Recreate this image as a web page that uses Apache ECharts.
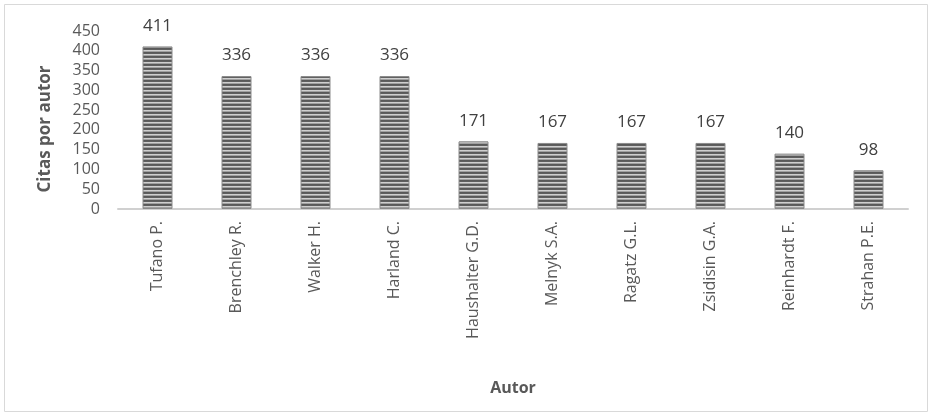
<!DOCTYPE html>
<html>
<head>
<meta charset="utf-8">
<title>Citas por autor</title>
<script src="https://cdn.jsdelivr.net/npm/echarts@6/dist/echarts.min.js"></script>
<style>
  html, body { margin: 0; padding: 0; background: #fff; }
  #chart { width: 932px; height: 417px; }
</style>
</head>
<body>
<div id="chart"></div>
<script>
var autores = ['Tufano P.', 'Brenchley R.', 'Walker H.', 'Harland C.', 'Haushalter G.D.',
               'Melnyk S.A.', 'Ragatz G.L.', 'Zsidisin G.A.', 'Reinhardt F.', 'Strahan P.E.'];
var citas = [411, 336, 336, 336, 171, 167, 167, 167, 140, 98];
var yTicks = [0, 50, 100, 150, 200, 250, 300, 350, 400, 450];

// horizontal stripes for the bars
var cv = document.createElement('canvas');
cv.width = 4; cv.height = 4;
var cx = cv.getContext('2d');
var rows = ['#595959', '#5f5f5f', '#cfcfcf', '#a0a0a0'];
for (var i = 0; i < rows.length; i++) {
  cx.fillStyle = rows[i];
  cx.fillRect(0, i, 4, 1);
}

var font = '"Open Sans", sans-serif';
var chart = echarts.init(document.getElementById('chart'));
chart.setOption({
  animation: false,
  textStyle: { fontFamily: font },
  graphic: [{
    type: 'rect',
    shape: { x: 4.5, y: 4.5, width: 923, height: 407 },
    style: { fill: 'none', stroke: '#d9d9d9', lineWidth: 1 },
    silent: true
  }],
  grid: { left: 118, right: 24, top: 31, bottom: 208 },
  xAxis: {
    type: 'category',
    data: autores,
    name: 'Autor',
    nameLocation: 'middle',
    nameGap: 171,
    nameTextStyle: { fontWeight: 'bold', fontSize: 16, color: '#595959', fontFamily: font },
    axisLine: { lineStyle: { color: '#d0d0d0', width: 2 } },
    axisTick: { show: false },
    axisLabel: { rotate: 90, interval: 0, fontSize: 16, color: '#595959', margin: 12, fontFamily: font }
  },
  yAxis: {
    type: 'value',
    min: 0,
    max: 450,
    interval: 50,
    name: 'Citas por autor',
    nameLocation: 'middle',
    nameGap: 64,
    nameTextStyle: { fontWeight: 'bold', fontSize: 17, color: '#595959', fontFamily: font, padding: [0, 18, 0, 0] },
    axisLine: { show: false },
    axisTick: { show: false },
    splitLine: { show: false },
    axisLabel: {
      fontSize: 16, color: '#595959', margin: 18, fontFamily: font,
      formatter: function (v) { return yTicks.indexOf(v) >= 0 ? String(v) : ''; }
    }
  },
  series: [{
    type: 'bar',
    data: citas,
    barWidth: 30,
    itemStyle: {
      color: { image: cv, repeat: 'repeat' },
      borderColor: '#8a8a8a',
      borderWidth: 1
    },
    label: {
      show: true,
      position: 'top',
      distance: 12,
      fontSize: 17,
      color: '#404040',
      fontFamily: font
    }
  }]
});
</script>
</body>
</html>
